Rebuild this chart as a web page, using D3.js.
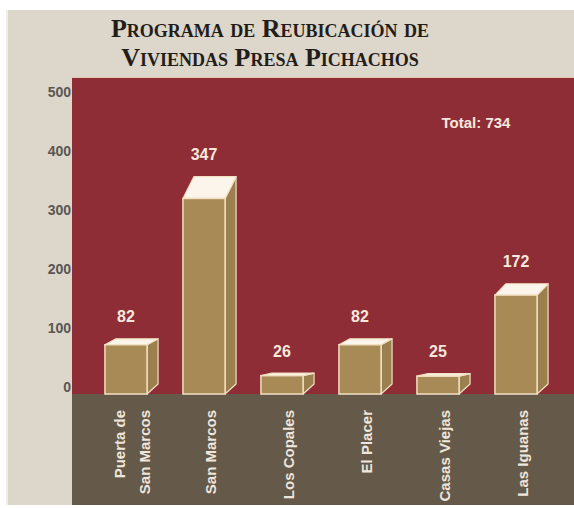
<!DOCTYPE html>
<html>
<head>
<meta charset="utf-8">
<script src="https://cdn.jsdelivr.net/npm/d3@7/dist/d3.min.js"></script>
<style>
  html, body { margin: 0; padding: 0; background: #ffffff; }
  svg { display: block; }
  .cond { font-family: "Liberation Sans", Arial, sans-serif; font-weight: bold; }
</style>
</head>
<body>
<svg id="chart" width="574" height="508"></svg>
<script>
// Viviendas reubicadas por localidad
const categories = ["Puerta de San Marcos", "San Marcos", "Los Copales", "El Placer", "Casas Viejas", "Las Iguanas"];
const categoryLines = [["Puerta de", "San Marcos"], ["San Marcos"], ["Los Copales"], ["El Placer"], ["Casas Viejas"], ["Las Iguanas"]];
const values = [82, 347, 26, 82, 25, 172];
const yTicks = [0, 100, 200, 300, 400, 500];
const titleLines = ["Programa de Reubicación de", "Viviendas Presa Pichachos"];
const totalLabel = "Total: 734";

const svg = d3.select("#chart");

// panel layout
const panel = { x: 8, y: 10, right: 574, bottom: 505 };
const plot = { left: 72, top: 78, right: 574, ground: 394 };
const depthX = 11;          // horizontal offset of the back face
const baseRise = 10;        // back edge of the bar base sits above the front edge

// colours
const C = {
  panel: "#ddd6cb",
  red: "#8f2d37",
  floor: "#655949",
  front: "#a88a56",
  side: "#9c7f4e",
  top: "#fbf5ec",
  edge: "#f2e0c2",
  tick: "#595654",
  text: "#f7e8dc"
};

// background panel
svg.append("rect").attr("x", panel.x - 2).attr("y", panel.y).attr("width", 2)
  .attr("height", panel.bottom - panel.y).attr("fill", "#eeeeee");
svg.append("rect").attr("x", panel.x).attr("y", panel.y)
  .attr("width", panel.right - panel.x).attr("height", panel.bottom - panel.y)
  .attr("fill", C.panel);

// plot backdrop and floor
svg.append("rect").attr("x", plot.left).attr("y", plot.top - 1)
  .attr("width", plot.right - plot.left).attr("height", 2).attr("fill", "#e9c9b4");
svg.append("rect").attr("x", plot.left).attr("y", plot.top)
  .attr("width", plot.right - plot.left).attr("height", plot.ground - plot.top)
  .attr("fill", C.red);
svg.append("rect").attr("x", plot.left).attr("y", plot.ground)
  .attr("width", plot.right - plot.left).attr("height", panel.bottom - plot.ground)
  .attr("fill", C.floor);

// title
const title = svg.append("text")
  .attr("x", 270).attr("text-anchor", "middle")
  .style("font-family", "'Liberation Serif', 'DejaVu Serif', serif")
  .style("font-variant", "small-caps")
  .style("font-weight", "bold")
  .style("font-size", "26px")
  .attr("fill", "#231d1a");
title.selectAll("tspan").data(titleLines).join("tspan")
  .attr("x", 270).attr("y", (d, i) => 37 + i * 29).text(d => d);

// scales: axis scale, back-edge scale and front-edge scale of the boxes
const y = d3.scaleLinear().domain([0, 500]).range([387, 92]);
const yBack = d3.scaleLinear().domain([0, 500]).range([389, 83]);
const yFront = d3.scaleLinear().domain([0, 500]).range([390, 114]);
const x = d3.scaleBand().domain(categories).range([87, 555])
  .paddingInner(0.46).paddingOuter(0.23);

// y axis
const yAxis = d3.axisLeft(y).tickValues(yTicks).tickSize(0).tickPadding(0);
const ga = svg.append("g").attr("transform", `translate(${plot.left - 1},0)`).call(yAxis);
ga.select(".domain").remove();
ga.selectAll("text").attr("class", "cond").style("font-size", "14px")
  .attr("fill", C.tick).attr("dy", "0.35em");

// 3D boxes
const bars = svg.append("g").selectAll("g").data(values).join("g");
bars.each(function (v, i) {
  const g = d3.select(this);
  const x0 = x(categories[i]);
  const w = x.bandwidth();
  const ft = yFront(v), bt = yBack(v);
  const fb = plot.ground, bb = plot.ground - baseRise;
  // side face
  g.append("path")
    .attr("d", `M${x0 + w},${ft}L${x0 + w + depthX},${bt}L${x0 + w + depthX},${bb}L${x0 + w},${fb}Z`)
    .attr("fill", C.side).attr("stroke", C.edge).attr("stroke-width", 1.2).attr("stroke-linejoin", "round");
  // top face
  g.append("path")
    .attr("d", `M${x0},${ft}L${x0 + depthX},${bt}L${x0 + w + depthX},${bt}L${x0 + w},${ft}Z`)
    .attr("fill", C.top).attr("stroke", C.edge).attr("stroke-width", 1.2).attr("stroke-linejoin", "round");
  // front face
  g.append("rect").attr("x", x0).attr("y", ft).attr("width", w).attr("height", fb - ft)
    .attr("fill", C.front).attr("stroke", C.edge).attr("stroke-width", 1.5);
});

// value labels
svg.append("g").selectAll("text").data(values).join("text")
  .attr("class", "cond")
  .attr("x", (d, i) => x(categories[i]) + x.bandwidth() / 2)
  .attr("y", d => yBack(d) - 22)
  .attr("dy", "0.35em")
  .attr("text-anchor", "middle")
  .style("font-size", "16px")
  .attr("fill", C.text)
  .text(d => d);

// total
svg.append("text").attr("class", "cond")
  .attr("x", 476).attr("y", 123).attr("dy", "0.35em").attr("text-anchor", "middle")
  .style("font-size", "15px").attr("fill", C.text).text(totalLabel);

// category labels, rotated
const cl = svg.append("g").selectAll("text").data(categoryLines).join("text")
  .attr("class", "cond")
  .style("font-size", "15px")
  .attr("fill", "#eee6dc")
  .attr("text-anchor", "end")
  .attr("transform", (d, i) => {
    const cx = x(categories[i]) + x.bandwidth() / 2 + depthX / 2 + 1;
    return `translate(${cx},410) rotate(-90)`;
  });
cl.selectAll("tspan").data(d => d.map((t, k) => ({ t, k, n: d.length }))).join("tspan")
  .attr("x", 0)
  .attr("y", d => (d.k - (d.n - 1) / 2) * 25)
  .attr("dy", "0.35em")
  .text(d => d.t);
</script>
</body>
</html>
